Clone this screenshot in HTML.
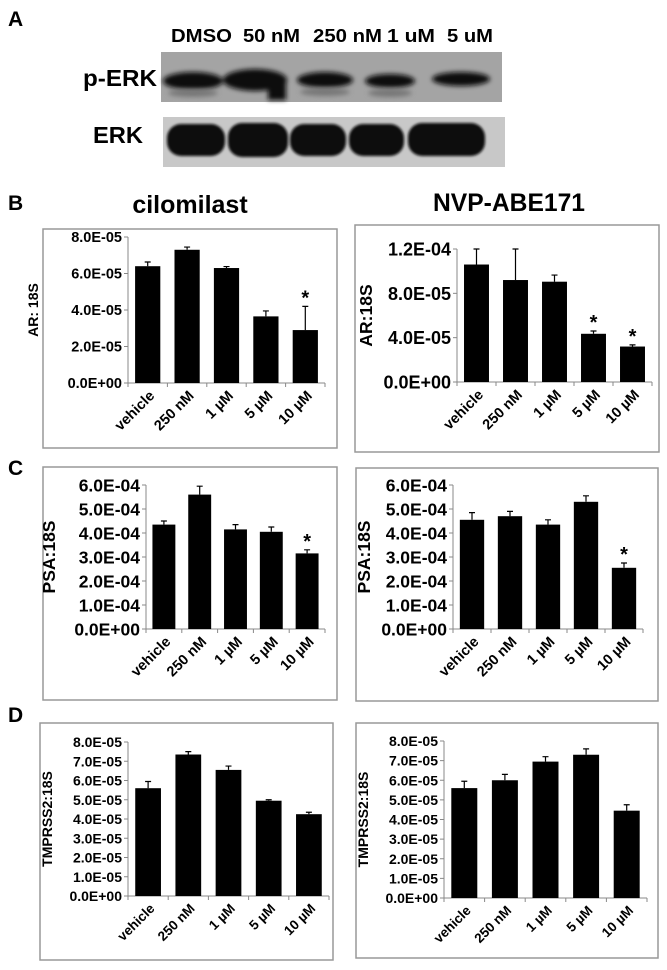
<!DOCTYPE html>
<html><head><meta charset="utf-8"><style>
html,body{margin:0;padding:0;background:#fff;}
svg{display:block;font-family:"Liberation Sans",Arial,sans-serif;font-weight:bold;}
svg text{font-weight:bold;}
</style></head><body>
<svg id="fig" width="667" height="970" viewBox="0 0 667 970" xmlns="http://www.w3.org/2000/svg">
<defs><filter id="blur" x="-20%" y="-50%" width="140%" height="200%"><feGaussianBlur stdDeviation="2.5"/></filter>
<filter id="blur2"><feGaussianBlur stdDeviation="1.2"/></filter></defs>
<g>
<text x="8" y="26" font-size="21">A</text>
<text x="171" y="42" font-size="18" textLength="61" lengthAdjust="spacingAndGlyphs">DMSO</text>
<text x="243" y="42" font-size="18" textLength="57" lengthAdjust="spacingAndGlyphs">50 nM</text>
<text x="313" y="42" font-size="18" textLength="69" lengthAdjust="spacingAndGlyphs">250 nM</text>
<text x="387" y="42" font-size="18" textLength="48" lengthAdjust="spacingAndGlyphs">1 uM</text>
<text x="447" y="42" font-size="18" textLength="46" lengthAdjust="spacingAndGlyphs">5 uM</text>
<text x="83" y="86" font-size="23" textLength="74" lengthAdjust="spacingAndGlyphs">p-ERK</text>
<text x="93" y="143" font-size="23" textLength="50" lengthAdjust="spacingAndGlyphs">ERK</text>
<g>
<rect x="161" y="52" width="341" height="50" fill="#a4a4a4"/>
<g filter="url(#blur)" fill="#111">
<ellipse cx="193" cy="81" rx="30" ry="9"/><ellipse cx="255" cy="80" rx="32" ry="11"/><rect x="268" y="82" width="18" height="18"/>
<ellipse cx="325" cy="80" rx="28" ry="8"/><ellipse cx="390" cy="81" rx="25" ry="7"/><ellipse cx="461" cy="79" rx="29" ry="7"/>
</g>
<g filter="url(#blur)" fill="#777"><ellipse cx="325" cy="92" rx="25" ry="4"/><ellipse cx="390" cy="93" rx="22" ry="4"/><ellipse cx="193" cy="93" rx="25" ry="4"/></g>
</g>
<g>
<rect x="163" y="117" width="342" height="50" fill="#c8c8c8"/>
<g filter="url(#blur2)" fill="#0c0c0c">
<rect x="167" y="124" width="58" height="32" rx="14"/><rect x="228" y="123" width="60" height="34" rx="14"/><rect x="290" y="124" width="56" height="32" rx="14"/><rect x="349" y="124" width="55" height="32" rx="14"/><rect x="408" y="123" width="77" height="33" rx="14"/>
</g></g>
</g>
<text x="8" y="210" font-size="21">B</text>
<text x="190" y="213" font-size="25" text-anchor="middle">cilomilast</text>
<text x="509" y="211" font-size="25" text-anchor="middle" textLength="152" lengthAdjust="spacingAndGlyphs">NVP-ABE171</text>
<text x="8" y="475" font-size="21">C</text>
<text x="8" y="722" font-size="21">D</text>
</svg>
<script>
const categories = ["vehicle","250 nM","1 \u00b5M","5 \u00b5M","10 \u00b5M"];
const bLeftValues = [6.4,7.3,6.3,3.65,2.9];
const bLeftErrors = [0.23,0.15,0.08,0.3,1.3];
const bLeftTicks = ["0.0E+00","2.0E-05","4.0E-05","6.0E-05","8.0E-05"];
const bLeftStars = [false,false,false,false,true];
const bRightValues = [1.06,0.92,0.905,0.435,0.32];
const bRightErrors = [0.14,0.28,0.06,0.025,0.015];
const bRightTicks = ["0.0E+00","4.0E-05","8.0E-05","1.2E-04"];
const bRightStars = [false,false,false,true,true];
const cLeftValues = [4.35,5.6,4.15,4.05,3.15];
const cLeftErrors = [0.15,0.35,0.2,0.2,0.15];
const cTicks = ["0.0E+00","1.0E-04","2.0E-04","3.0E-04","4.0E-04","5.0E-04","6.0E-04"];
const cLeftStars = [false,false,false,false,true];
const cRightValues = [4.55,4.7,4.35,5.3,2.55];
const cRightErrors = [0.3,0.2,0.2,0.25,0.2];
const cRightStars = [false,false,false,false,true];
const dLeftValues = [5.6,7.35,6.55,4.95,4.25];
const dLeftErrors = [0.35,0.15,0.2,0.05,0.1];
const dRightValues = [5.6,6.0,6.95,7.3,4.45];
const dRightErrors = [0.35,0.3,0.25,0.3,0.3];
const dTicks = ["0.0E+00","1.0E-05","2.0E-05","3.0E-05","4.0E-05","5.0E-05","6.0E-05","7.0E-05","8.0E-05"];
const noStars = [false,false,false,false,false];

const NS="http://www.w3.org/2000/svg";
const svg=document.getElementById('fig');
function mk(tag,attrs,parent){const e=document.createElementNS(NS,tag);for(const k in attrs)e.setAttribute(k,attrs[k]);parent.appendChild(e);return e;}

function chart(name,box,ax,values,errors,ticks,max,stars,ytitle,fs){
  const g=mk('g',{},svg);
  
  
  const frame=mk('rect',{x:box[0],y:box[1],width:box[2]-box[0],height:box[3]-box[1],fill:'none',stroke:'#999','stroke-width':1.5},g);
  
  
  const x0=ax.x,x1=ax.right,yTop=ax.top,y0=ax.zero;
  const yS=v=>y0-(v/max)*(y0-yTop);
  const cw=(x1-x0)/values.length;
  const n=ticks.length-1;
  const axis=mk('line',{x1:x0,y1:yTop,x2:x0,y2:y0,stroke:'#888'},g);
  
  
  const xa=mk('line',{x1:x0,y1:y0,x2:x1,y2:y0,stroke:'#888'},g);
  
  
  ticks.forEach((t,i)=>{
    const y=yS(max*i/n);
    mk('line',{x1:x0-4,y1:y,x2:x0,y2:y,stroke:'#888'},g);
    const tx=mk('text',{x:x0-6,y:y+fs.tick*0.36,'font-size':fs.tick,'text-anchor':'end'},g);
    tx.textContent=t;
    
    
  });
  for(let i=0;i<=values.length;i++){mk('line',{x1:x0+i*cw,y1:y0,x2:x0+i*cw,y2:y0+4,stroke:'#888'},g);}
  values.forEach((v,i)=>{
    const cx=x0+cw*(i+0.5),bw=cw*0.64;
    const b=mk('rect',{x:cx-bw/2,y:yS(v),width:bw,height:y0-yS(v),fill:'#000'},g);
    
    
    const et=yS(v+errors[i]);
    const e=mk('path',{d:`M${cx},${yS(v)}V${et}M${cx-3},${et}H${cx+3}`,stroke:'#000','stroke-width':1.2,fill:'none'},g);
    
    
    if(stars[i]){
      const s=mk('text',{x:cx,y:et-2,'font-size':fs.star,'text-anchor':'middle'},g);
      s.textContent='*';
      
      
    }
    const lx=cx+4,ly=y0+10;
    const l=mk('text',{x:lx,y:ly,'font-size':fs.x,'text-anchor':'end',transform:`rotate(-45 ${lx} ${ly})`,dy:fs.x*0.35},g);
    l.textContent=categories[i];
    
    
  });
  const yt=mk('text',{x:0,y:0,'font-size':fs.title,'text-anchor':'middle',transform:`translate(${ax.titleX} ${(yTop+y0)/2}) rotate(-90)`},g);
  yt.textContent=ytitle;
  
  
}
const fsB={tick:14.5,x:14.5,title:14,star:20};
chart('ar-cilomilast-chart',[43,229,337,448],{x:128,right:325,top:237,zero:383,titleX:38},bLeftValues,bLeftErrors,bLeftTicks,8,bLeftStars,'AR: 18S',fsB);
chart('ar-nvp-chart',[355,225,659,452],{x:457,right:652,top:249,zero:382,titleX:372},bRightValues,bRightErrors,bRightTicks,1.2,bRightStars,'AR:18S',{tick:18,x:14.5,title:17.5,star:20});
const fsC={tick:17.5,x:14.5,title:17.5,star:20};
chart('psa-cilomilast-chart',[43,467,337,700],{x:146,right:325,top:485,zero:629,titleX:55},cLeftValues,cLeftErrors,cTicks,6,cLeftStars,'PSA:18S',fsC);
chart('psa-nvp-chart',[356,468,658,701],{x:453,right:643,top:485,zero:629,titleX:370},cRightValues,cRightErrors,cTicks,6,cRightStars,'PSA:18S',fsC);
const fsD={tick:14,x:13.5,title:14,star:16};
chart('tmprss2-cilomilast-chart',[40,723,333,960],{x:128,right:329,top:742,zero:896,titleX:52},dLeftValues,dLeftErrors,dTicks,8,noStars,'TMPRSS2:18S',fsD);
chart('tmprss2-nvp-chart',[356,723,658,958],{x:444,right:647,top:741,zero:898,titleX:368},dRightValues,dRightErrors,dTicks,8,noStars,'TMPRSS2:18S',fsD);
</script>
</body></html>
